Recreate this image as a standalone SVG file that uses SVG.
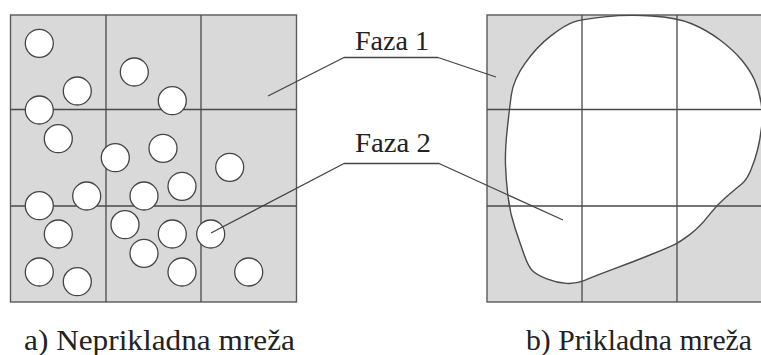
<svg xmlns="http://www.w3.org/2000/svg" width="761" height="355" viewBox="0 0 761 355">
<style>
.bg{fill:#ffffff}
.cell{fill:#d9d9d9;stroke:#5a5a5a;stroke-width:1.4}
.grid{stroke:#4a4a4a;stroke-width:1.3;fill:none}
.circ{fill:#ffffff;stroke:#444444;stroke-width:1.3}
.blob{fill:#ffffff;stroke:#4a4a4a;stroke-width:1.4}
.lead{fill:none;stroke:#444444;stroke-width:1.3;stroke-linejoin:round}
.lbl{font-family:'Liberation Serif','Times New Roman',serif;font-size:28px;fill:#222222}
.cap{font-family:'Liberation Serif','Times New Roman',serif;font-size:30px;fill:#222222}
</style>
<rect class="bg" x="0" y="0" width="761" height="355"/>
<g id="left-panel">
<rect class="cell" x="10.5" y="15" width="286" height="287"/>
<path class="grid" d="M106 15V302M201 15V302M10.5 109.5H296.5M10.5 206H296.5"/>
<g id="inclusions">
<circle class="circ" cx="39.3" cy="43.3" r="14"/>
<circle class="circ" cx="134.3" cy="72" r="14"/>
<circle class="circ" cx="77.3" cy="91" r="14"/>
<circle class="circ" cx="39.3" cy="110" r="14"/>
<circle class="circ" cx="172.3" cy="100.7" r="14"/>
<circle class="circ" cx="58.3" cy="138.7" r="14"/>
<circle class="circ" cx="163" cy="148.3" r="14"/>
<circle class="circ" cx="115.3" cy="157.7" r="14"/>
<circle class="circ" cx="229.7" cy="167.3" r="14"/>
<circle class="circ" cx="182" cy="186.3" r="14"/>
<circle class="circ" cx="86.7" cy="196" r="14"/>
<circle class="circ" cx="144" cy="196" r="14"/>
<circle class="circ" cx="39.3" cy="205.7" r="14"/>
<circle class="circ" cx="58.3" cy="234" r="14"/>
<circle class="circ" cx="125" cy="224.7" r="14"/>
<circle class="circ" cx="172.3" cy="234" r="14"/>
<circle class="circ" cx="210.7" cy="234" r="14"/>
<circle class="circ" cx="144" cy="253.3" r="14"/>
<circle class="circ" cx="39.3" cy="272" r="14"/>
<circle class="circ" cx="77.3" cy="281.7" r="14"/>
<circle class="circ" cx="182" cy="272" r="14"/>
<circle class="circ" cx="248.7" cy="272" r="14"/>
</g>
</g>
<g id="right-panel">
<rect class="cell" x="487" y="15" width="285" height="287"/>
<path class="blob" d="M604.35,16.9 Q627,14.5 651.85,16 Q676.7,17.5 691.7,23.75 Q706.7,30 720,40 Q733.3,50 741.65,60 Q750,70 754.5,80 Q759,90 761,102.5 Q763,115 761.5,127.5 Q760,140 757.5,150 Q755,160 750.85,170 Q746.7,180 741.7,184 Q736.7,188 726.7,196.5 Q716.7,205 708.35,215.85 Q700,226.7 690,234.35 Q680,242 673.35,245.15 Q666.7,248.3 650,255 Q633.3,261.7 613.3,269.2 Q593.3,276.7 584.65,280.35 Q576,284 566.35,283.35 Q556.7,282.7 546.7,278.85 Q536.7,275 532.5,270.85 Q528.3,266.7 524.15,254.85 Q520,243 515,228 Q510,213 508,196.5 Q506,180 505.5,165 Q505,150 507.15,130 Q509.3,110 511.3,95 Q513.3,80 525,63.35 Q536.7,46.7 550.85,35.85 Q565,25 573.35,22.15 Q581.7,19.3 604.35,16.9 Z"/>
<path class="grid" d="M582 15V302M677 15V302M487 109.5H772M487 206H772"/>
</g>
<g id="connectors">
<polyline class="lead" points="268,96 344,57.5 438,57.5 496,77"/>
<polyline class="lead" points="211,233 344,163.5 439,163.5 563,220"/>
</g>
<g id="label-faza1"><text class="lbl" x="355" y="50" textLength="74" lengthAdjust="spacingAndGlyphs">Faza 1</text></g>
<g id="label-faza2"><text class="lbl" x="355" y="152" textLength="76" lengthAdjust="spacingAndGlyphs">Faza 2</text></g>
<g id="caption-a"><text class="cap" x="24" y="350" textLength="271" lengthAdjust="spacingAndGlyphs">a) Neprikladna mreža</text></g>
<g id="caption-b"><text class="cap" x="526" y="350" textLength="226" lengthAdjust="spacingAndGlyphs">b) Prikladna mreža</text></g>
</svg>
